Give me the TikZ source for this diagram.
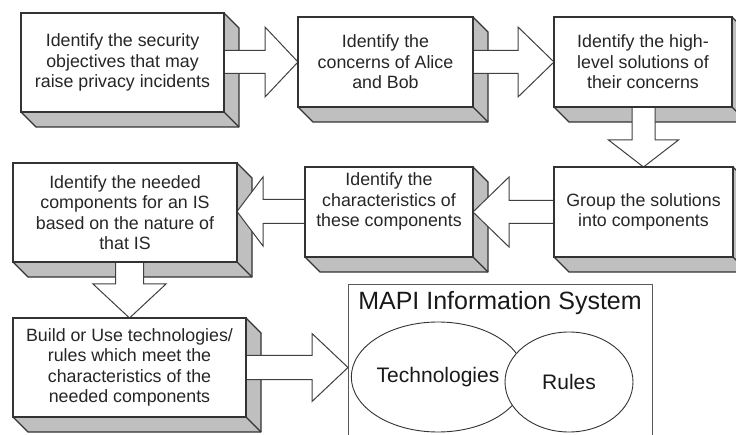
\documentclass[tikz,border=0pt]{standalone}
\usepackage{fontspec}
\setmainfont{Liberation Sans}
\usetikzlibrary{calc,shapes.geometric}
\newcommand\sidefaces[1]{%
  \draw[face] (#1.north east) -- ++(15,15) -- ($(#1.south east)+(15,15)$) -- ($(#1.south west)+(15,15)$) -- (#1.south west) -- (#1.south east) -- cycle;
  \draw[face] (#1.south east) -- ++(15,15);}
\begin{document}
\begin{tikzpicture}[x=1pt,y=-1pt,
  stepbox/.style={draw=black!80, line width=1.3pt, fill=white, rectangle, inner sep=0pt, outer sep=0pt, align=center, font=\fontsize{17.8}{20.5}\selectfont, text=black!85},
  face/.style={draw=black!80, line width=1.3pt, fill=black!25, line join=round},
  blockarr/.style={draw=black!75, line width=1pt, fill=white, line join=miter},
  boxline/.style={draw=black!80, line width=1.3pt},
  mapiline/.style={draw=black!65, line width=1pt},
  oval/.style={ellipse, draw=black!80, line width=0.9pt, fill=white, inner sep=0pt, text=black!90, font=\fontsize{21}{25}\selectfont}]
\useasboundingbox (0,0) rectangle (736,435);
\clip (0,0) rectangle (736,435);

% step boxes
\node[stepbox, minimum width=203pt, minimum height=99pt] (b1) at (122.5,62.5) {Identify the security\\objectives that may\\raise privacy incidents};
\node[stepbox, minimum width=175pt, minimum height=90pt] (b2) at (385.5,62) {Identify the\\concerns of Alice\\and Bob};
\node[stepbox, minimum width=178pt, minimum height=90pt] (b3) at (643,62) {Identify the high-\\level solutions of\\their concerns};
\node[stepbox, minimum width=179pt, minimum height=90pt] (b4) at (643.5,212) {Group the solutions\\into components};
\node[stepbox, minimum width=168pt, minimum height=90pt] (b5) at (389,212) {};
\node[stepbox, minimum width=224pt, minimum height=99pt] (b6) at (125,212.5) {Identify the needed\\components for an IS\\based on the nature of\\that IS};
\node[stepbox, minimum width=233pt, minimum height=99pt] (b7) at (129.5,367.5) {Build or Use technologies/\\rules which meet the\\characteristics of the\\needed components};

\foreach \n in {b1,b2,b3,b4,b5,b6,b7} {\sidefaces{\n}}

% block arrows
\path (b2.west) coordinate (t1);
\draw[blockarr] ($(b1.east |- t1)+(0,-11.5)$) -- ($(t1)+(-33,-11.5)$) -- ($(t1)+(-33,-35)$) -- (t1) -- ($(t1)+(-33,35)$) -- ($(t1)+(-33,11.5)$) -- ($(b1.east |- t1)+(0,11.5)$);
\path (b3.west) coordinate (t2);
\draw[blockarr] ($(b2.east |- t2)+(0,-11.5)$) -- ($(t2)+(-36,-11.5)$) -- ($(t2)+(-36,-35)$) -- (t2) -- ($(t2)+(-36,35)$) -- ($(t2)+(-36,11.5)$) -- ($(b2.east |- t2)+(0,11.5)$);
\path (b4.north) coordinate (t3);
\draw[blockarr] ($(t3 |- b3.south)+(-11.5,0)$) -- ($(t3)+(-11.5,-27)$) -- ($(t3)+(-35,-27)$) -- (t3) -- ($(t3)+(35,-27)$) -- ($(t3)+(11.5,-27)$) -- ($(t3 |- b3.south)+(11.5,0)$);
\path (b5.east) coordinate (t4);
\draw[blockarr] ($(b4.west |- t4)+(0,-11.5)$) -- ($(t4)+(36,-11.5)$) -- ($(t4)+(36,-35)$) -- (t4) -- ($(t4)+(36,35)$) -- ($(t4)+(36,11.5)$) -- ($(b4.west |- t4)+(0,11.5)$);
\path ($(b6.east)+(0,-1)$) coordinate (t5);
\draw[blockarr] ($(b5.west |- t5)+(0,-12)$) -- ($(t5)+(26,-12)$) -- ($(t5)+(26,-34.5)$) -- (t5) -- ($(t5)+(26,34.5)$) -- ($(t5)+(26,12)$) -- ($(b5.west |- t5)+(0,12)$);
\path (b7.north) coordinate (t6);
\draw[blockarr] ($(t6 |- b6.south)+(-14,0)$) -- ($(t6)+(-14,-34)$) -- ($(t6)+(-36.5,-34)$) -- (t6) -- ($(t6)+(36.5,-34)$) -- ($(t6)+(14,-34)$) -- ($(t6 |- b6.south)+(14,0)$);

% MAPI information system
\node[minimum width=304pt, minimum height=160pt, inner sep=0pt, outer sep=0pt] (mapi) at (500,365) {};
\draw[mapiline] (mapi.south west) -- (mapi.north west) -- (mapi.north east) -- (mapi.south east);
\path (mapi.west |- b7.east) coordinate (t7);
\draw[blockarr] ($(b7.east |- t7)+(0,-12)$) -- ($(t7)+(-36,-12)$) -- ($(t7)+(-36,-34)$) -- (t7) -- ($(t7)+(-36,34)$) -- ($(t7)+(-36,12)$) -- ($(b7.east |- t7)+(0,12)$);

\foreach \n in {b1,b2,b3,b4,b5,b6,b7} {\draw[boxline] (\n.south west) rectangle (\n.north east);}
\node[align=center, font=\fontsize{17.8}{20.5}\selectfont, text=black!85] (t5text) at (389,201.5) {Identify the\\characteristics of\\these components};

\node[font=\fontsize{25}{30}\selectfont, anchor=base, text=black!90] (title) at (500,310) {MAPI Information System};
\node[oval, minimum width=154pt, minimum height=110pt] (tech) at (438,377) {Technologies};
\node[oval, minimum width=128pt, minimum height=100pt] (rules) at (569,382) {Rules};
\end{tikzpicture}
\end{document}
